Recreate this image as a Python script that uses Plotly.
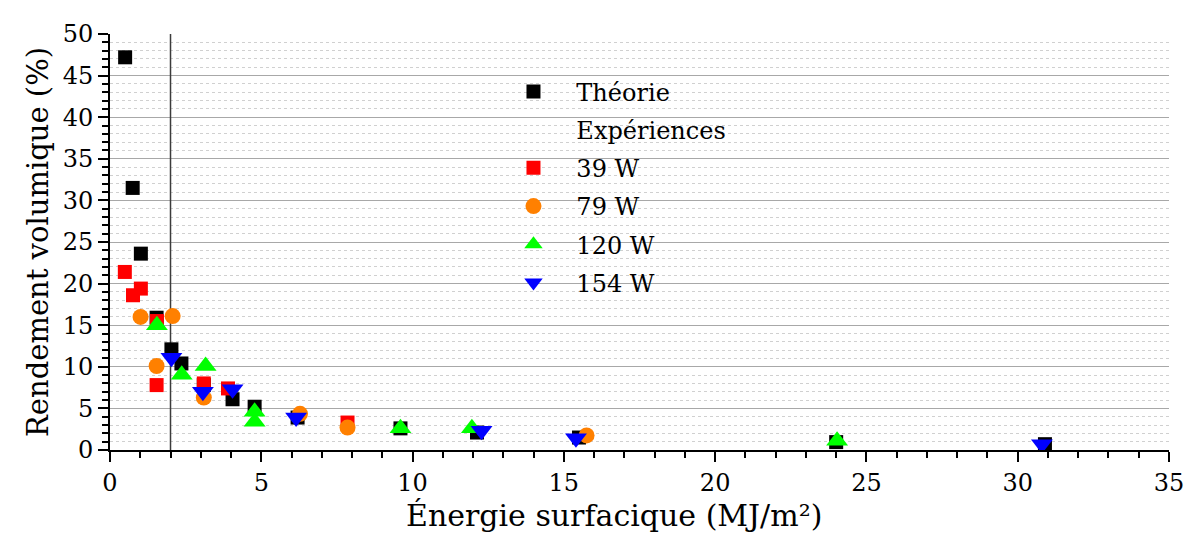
import plotly.graph_objects as go

# Théorie
th_x = [0.5, 0.75, 1.02, 1.54, 2.03, 2.36, 3.1, 4.05, 4.78, 6.2, 9.6, 12.13, 15.5, 24.0, 30.9]
th_y = [47.2, 31.5, 23.6, 15.9, 12.1, 10.4, 7.8, 6.1, 5.2, 3.9, 2.6, 2.1, 1.5, 0.95, 0.7]

# 39 W
w39_x = [0.49, 0.76, 1.02, 1.55, 1.54, 3.1, 3.9, 7.85]
w39_y = [21.4, 18.6, 19.4, 15.5, 7.8, 8.0, 7.4, 3.3]

# 79 W
w79_x = [1.01, 2.07, 1.54, 3.1, 6.28, 7.85, 15.75]
w79_y = [16.0, 16.1, 10.1, 6.3, 4.35, 2.7, 1.75]

# 120 W
w120_x = [1.55, 2.37, 3.16, 4.78, 4.78, 9.6, 11.96, 24.03]
w120_y = [15.0, 9.05, 10.1, 4.6, 3.4, 2.6, 2.6, 1.1]

# 154 W
w154_x = [2.03, 3.07, 4.05, 6.15, 12.28, 15.4, 30.8]
w154_y = [11.1, 7.0, 7.3, 3.9, 2.3, 1.4, 0.7]

font = "DejaVu Serif"
pad = '\u00a0\u00a0\u00a0'  # pushes legend text away from the marker

fig = go.Figure()
fig.add_trace(go.Scatter(x=th_x, y=th_y, mode='markers', name=pad + 'Théorie', legendgroup='a',
                         marker=dict(symbol='square', size=14, color='black')))
fig.add_trace(go.Scatter(x=[None], y=[None], mode='markers', name=pad + 'Expériences', legendgroup='b',
                         marker=dict(symbol='square', size=14, color='rgba(0,0,0,0)')))
fig.add_trace(go.Scatter(x=w39_x, y=w39_y, mode='markers', name=pad + '39 W', legendgroup='c',
                         marker=dict(symbol='square', size=14, color='#ff0000')))
fig.add_trace(go.Scatter(x=w79_x, y=w79_y, mode='markers', name=pad + '79 W', legendgroup='d',
                         marker=dict(symbol='circle', size=16, color='#ff8000')))
fig.add_trace(go.Scatter(x=w120_x, y=w120_y, mode='markers', name=pad + '120 W', legendgroup='e',
                         marker=dict(symbol='triangle-up', size=19, color='#00ff00')))
fig.add_trace(go.Scatter(x=w154_x, y=w154_y, mode='markers', name=pad + '154 W', legendgroup='f',
                         marker=dict(symbol='triangle-down', size=19, color='#0000ff')))

# vertical reference line at x = 2
fig.add_shape(type='line', x0=2, x1=2, y0=0, y1=50, xref='x', yref='y',
              line=dict(color='#3c3c3c', width=1.5), layer='between')

# x title as annotation (sits a bit left of centre in the original)
fig.add_annotation(text='Énergie surfacique (MJ/m²)', xref='paper', yref='paper',
                   x=0.4755, y=-0.158, xanchor='center', yanchor='middle',
                   showarrow=False, font=dict(size=30, family=font))

# the page body adds an 8px offset, so the figure is drawn 8px smaller
fig.update_layout(
    width=1188, height=526,
    margin=dict(l=102, r=24, t=17, b=84),
    plot_bgcolor='white', paper_bgcolor='white',
    font=dict(family=font, color='black', size=24),
    showlegend=True,
    legend=dict(x=0.381, y=0.915, xanchor='left', yanchor='top',
                bgcolor='rgba(0,0,0,0)', font=dict(size=24, family=font),
                tracegroupgap=4),
    xaxis=dict(range=[0, 35], dtick=5, showgrid=False, zeroline=False,
               showline=True, linecolor='black', linewidth=2,
               ticks='outside', ticklen=10, tickwidth=2, tickcolor='black',
               minor=dict(dtick=1, ticks='outside', ticklen=6, tickwidth=1.5, tickcolor='black')),
    yaxis=dict(range=[0, 50], dtick=5, showgrid=True, gridcolor='#a8a8a8', gridwidth=1.3,
               zeroline=False, showline=True, linecolor='black', linewidth=2,
               ticks='outside', ticklen=10, tickwidth=2, tickcolor='black',
               minor=dict(dtick=1, ticks='outside', ticklen=6, tickwidth=1.5, tickcolor='black',
                          showgrid=True, gridcolor='#d0d0d0', griddash='dot', gridwidth=1),
               title=dict(text='Rendement volumique (%)', font=dict(size=29), standoff=6)),
)

fig.write_html("out.html")
